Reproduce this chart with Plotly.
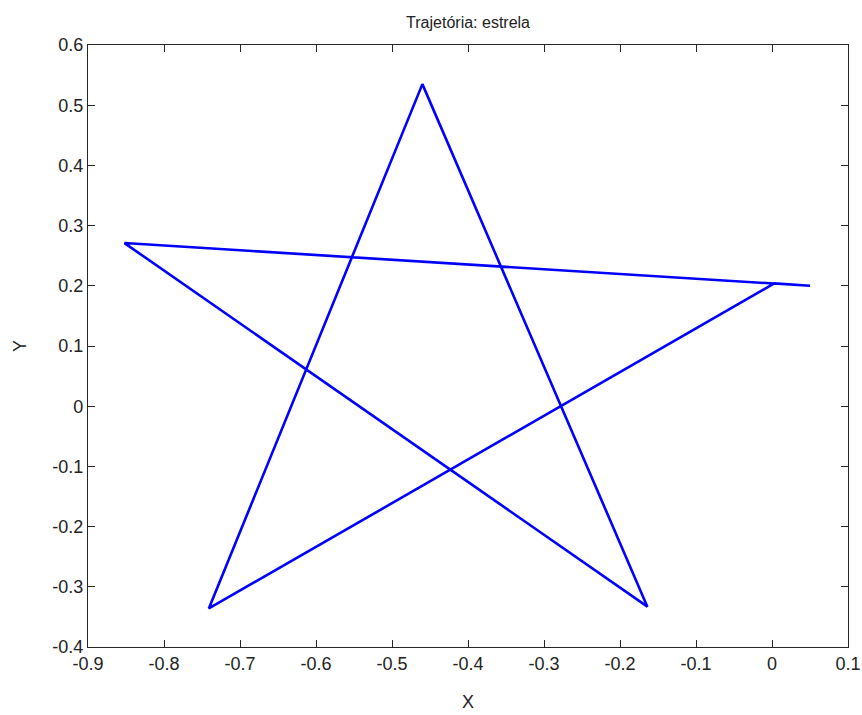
import plotly.graph_objects as go

# Star-shaped trajectory: corner points in drawing order
path_x = [0.050, -0.852, -0.164, -0.460, -0.741, 0.003, 0.050]
path_y = [0.200, 0.271, -0.333, 0.535, -0.336, 0.204, 0.200]

x_ticks = [-0.9, -0.8, -0.7, -0.6, -0.5, -0.4, -0.3, -0.2, -0.1, 0, 0.1]
x_tick_text = ["-0.9", "-0.8", "-0.7", "-0.6", "-0.5", "-0.4", "-0.3", "-0.2", "-0.1", "0", "0.1"]
y_ticks = [-0.4, -0.3, -0.2, -0.1, 0, 0.1, 0.2, 0.3, 0.4, 0.5, 0.6]
y_tick_text = ["-0.4", "-0.3", "-0.2", "-0.1", "0", "0.1", "0.2", "0.3", "0.4", "0.5", "0.6"]

font_family = "Liberation Sans, Arial, sans-serif"
axis_color = "#262626"

fig = go.Figure()
fig.add_trace(go.Scatter(
    x=path_x, y=path_y, mode="lines",
    line=dict(color="#0000ff", width=2.6),
    showlegend=False,
))

axis_common = dict(
    showline=True, linecolor=axis_color, linewidth=1.2, mirror="ticks",
    ticks="inside", ticklen=7, tickcolor=axis_color, tickwidth=1.2,
    showgrid=False, zeroline=False, automargin=False,
    tickfont=dict(family=font_family, size=18, color="#222222"),
)

fig.update_layout(
    width=862, height=715,
    margin=dict(l=88, r=14, t=45, b=68, autoexpand=False),
    paper_bgcolor="white", plot_bgcolor="white",
    title=dict(text="Trajetória: estrela", x=0.543, xanchor="center",
               y=1 - 22 / 715, yanchor="middle",
               font=dict(family=font_family, size=16, color="#222222")),
    xaxis=dict(range=[-0.9, 0.1], tickvals=x_ticks, ticktext=x_tick_text,
               title=dict(text="X", standoff=22,
                          font=dict(family=font_family, size=18, color="#222222")),
               **axis_common),
    yaxis=dict(range=[-0.4, 0.6], tickvals=y_ticks, ticktext=y_tick_text,
               title=dict(text="Y", standoff=20,
                          font=dict(family=font_family, size=18, color="#222222")),
               **axis_common),
)

fig.write_html("out.html")
